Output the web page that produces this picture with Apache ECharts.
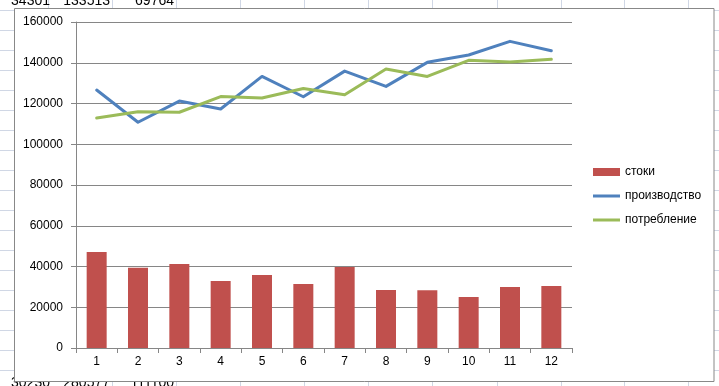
<!DOCTYPE html>
<html>
<head>
<meta charset="utf-8">
<script src="https://cdn.jsdelivr.net/npm/echarts@6/dist/echarts.min.js"></script>
<style>
html,body{margin:0;padding:0;background:#fff;}
#c{width:719px;height:386px;}
</style>
</head>
<body>
<div id="c"></div>
<script>
var categories = ['1','2','3','4','5','6','7','8','9','10','11','12'];
var stoki = [47100, 39400, 41200, 32900, 35800, 31400, 39700, 28500, 28400, 25000, 29900, 30400];
var proizvodstvo = [126600, 110800, 121200, 117300, 133300, 123300, 135900, 128400, 140200, 143800, 150500, 145900];
var potreblenie = [112900, 116000, 115700, 123400, 122700, 127400, 124300, 136900, 133300, 141200, 140400, 141700];
var seriesNames = ['стоки', 'производство', 'потребление'];
var sheetTopRow = ['34301', '133513', '69764'];
var sheetBottomRow = ['30230', '280577', '111100'];

var chart = echarts.init(document.getElementById('c'), null, {renderer: 'canvas'});
var FONT = 'Liberation Sans';
var gridColor = '#868686';
var lineIcon = 'path://M0,0h0.01v0.01h-0.01zM0,2.5h27v3h-27zM26.99,7.99h0.01v0.01h-0.01z';

// spreadsheet background decoration
var bg = [];
var colXs = [48, 112, 176, 240, 304, 368, 432, 497, 561, 624, 688];
colXs.forEach(function (x) {
  bg.push({type: 'line', shape: {x1: x + 0.5, y1: 0, x2: x + 0.5, y2: 386}, style: {stroke: '#d0d7e5', lineWidth: 1}, z: -5, z2: 0});
});
for (var ry = 10; ry < 386; ry += 20) {
  bg.push({type: 'line', shape: {x1: 0, y1: ry + 0.5, x2: 719, y2: ry + 0.5}, style: {stroke: '#d0d7e5', lineWidth: 1}, z: -5, z2: 0});
}
var topX = [50, 110, 174];
sheetTopRow.forEach(function (t, i) {
  bg.push({type: 'text', x: topX[i], y: -6, style: {text: t, fill: '#000', font: '14px ' + FONT, align: 'right'}, z: -5, z2: 1});
});
sheetBottomRow.forEach(function (t, i) {
  bg.push({type: 'text', x: topX[i], y: 376, style: {text: t, fill: '#000', font: '14px ' + FONT, align: 'right'}, z: -5, z2: 1});
});
bg.push({type: 'rect', shape: {x: 14.5, y: 8.5, width: 699.5, height: 373}, style: {fill: '#fff', stroke: '#888888', lineWidth: 1}, z: -4, z2: 2});

chart.setOption({
  animation: false,
  backgroundColor: '#fff',
  textStyle: {fontFamily: FONT},
  graphic: {elements: bg},
  grid: {left: 76, right: 147, top: 22, bottom: 38, containLabel: false},
  legend: {
    orient: 'vertical',
    left: 593,
    top: 166,
    padding: 0,
    itemWidth: 27,
    itemHeight: 8,
    itemGap: 12,
    textStyle: {color: '#000', fontSize: 12, fontFamily: FONT},
    data: [
      {name: seriesNames[0], icon: 'rect'},
      {name: seriesNames[1], icon: lineIcon},
      {name: seriesNames[2], icon: lineIcon}
    ]
  },
  xAxis: {
    type: 'category',
    data: categories,
    boundaryGap: true,
    z: 10,
    axisLine: {lineStyle: {color: gridColor, width: 1}},
    axisTick: {show: true, length: 5, lineStyle: {color: gridColor}},
    axisLabel: {color: '#000', fontSize: 12, fontFamily: FONT, margin: 8}
  },
  yAxis: {
    type: 'value',
    min: 0,
    max: 160000,
    interval: 20000,
    z: 1,
    axisLine: {show: true, lineStyle: {color: gridColor, width: 1}},
    axisTick: {show: true, length: 5, lineStyle: {color: gridColor}},
    splitLine: {show: true, lineStyle: {color: gridColor, width: 1}},
    axisLabel: {color: '#000', fontSize: 12, fontFamily: FONT, margin: 13,
      formatter: function (v) { return String(v); }}
  },
  series: [
    {
      name: seriesNames[0], type: 'bar', data: stoki, barWidth: 20,
      itemStyle: {color: '#C0504D'}, z: 2
    },
    {
      name: seriesNames[1], type: 'line', data: proizvodstvo, symbol: 'none', showSymbol: false,
      lineStyle: {color: '#4F81BD', width: 3, cap: 'round', join: 'round'},
      itemStyle: {color: '#4F81BD'}, z: 3
    },
    {
      name: seriesNames[2], type: 'line', data: potreblenie, symbol: 'none', showSymbol: false,
      lineStyle: {color: '#9BBB59', width: 3, cap: 'round', join: 'round'},
      itemStyle: {color: '#9BBB59'}, z: 4
    }
  ]
});
</script>
</body>
</html>
